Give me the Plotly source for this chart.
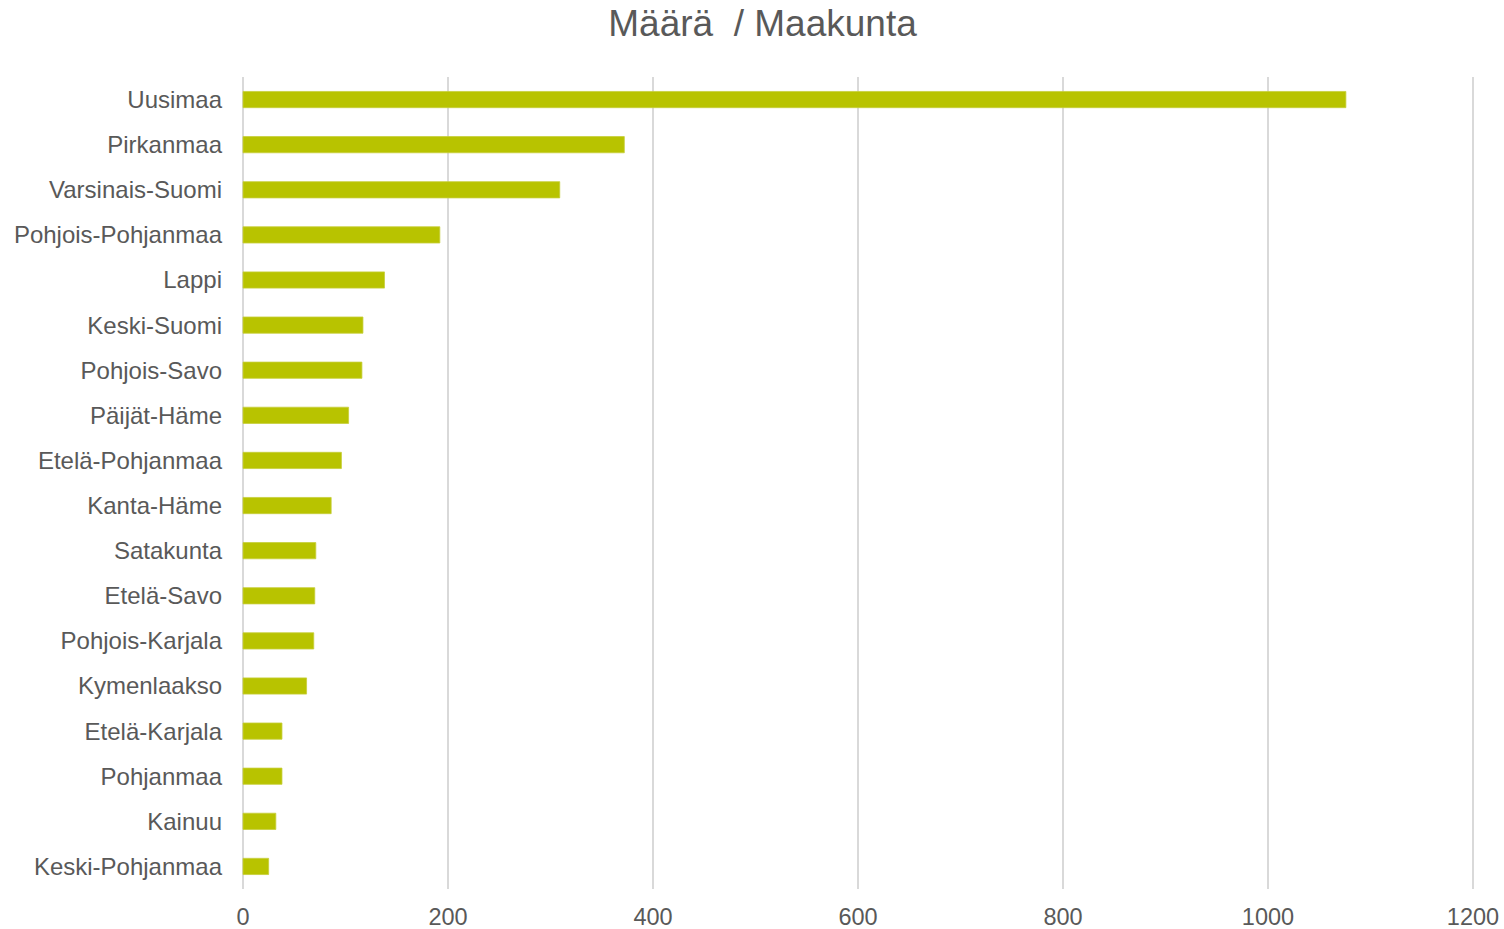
import plotly.graph_objects as go

regions = ["Uusimaa", "Pirkanmaa", "Varsinais-Suomi", "Pohjois-Pohjanmaa", "Lappi",
           "Keski-Suomi", "Pohjois-Savo", "Päijät-Häme", "Etelä-Pohjanmaa", "Kanta-Häme",
           "Satakunta", "Etelä-Savo", "Pohjois-Karjala", "Kymenlaakso", "Etelä-Karjala",
           "Pohjanmaa", "Kainuu", "Keski-Pohjanmaa"]
counts = [1076, 372, 309, 192, 138, 117, 116, 103, 96, 86, 71, 70, 69, 62, 38, 38, 32, 25]
x_ticks = [0, 200, 400, 600, 800, 1000, 1200]

font_family = "Liberation Sans, Arial, sans-serif"
text_color = "#595959"

fig = go.Figure(go.Bar(
    x=counts, y=regions, orientation="h",
    marker=dict(color="#B8C300", line=dict(color="#C6CE3A", width=0.8)),
    width=0.36,
))

fig.update_layout(
    width=1504, height=929,
    paper_bgcolor="white", plot_bgcolor="white",
    margin=dict(l=242, r=30, t=77, b=40),
    title=dict(text="Määrä  / Maakunta", x=0.507, xanchor="center", y=0.9752, yanchor="middle",
               font=dict(family=font_family, size=37, color=text_color)),
    font=dict(family=font_family, color=text_color),
    showlegend=False,
)
fig.update_xaxes(
    range=[-1, 1201], tickvals=x_ticks, ticktext=[str(v) for v in x_ticks],
    showgrid=True, gridcolor="#D9D9D9", gridwidth=1.5,
    zeroline=True, zerolinecolor="#D9D9D9", zerolinewidth=2,
    showline=False, automargin=False,
    tickfont=dict(size=23.5, color=text_color), ticklabelstandoff=11,
)
fig.update_yaxes(
    categoryorder="array", categoryarray=regions, autorange="reversed",
    showgrid=False, zeroline=False, showline=False, automargin=False,
    tickfont=dict(size=24, color=text_color), ticklabelstandoff=19,
)

fig.write_html("out.html", config={"displayModeBar": False},
               post_script="document.body.style.margin='0';")
